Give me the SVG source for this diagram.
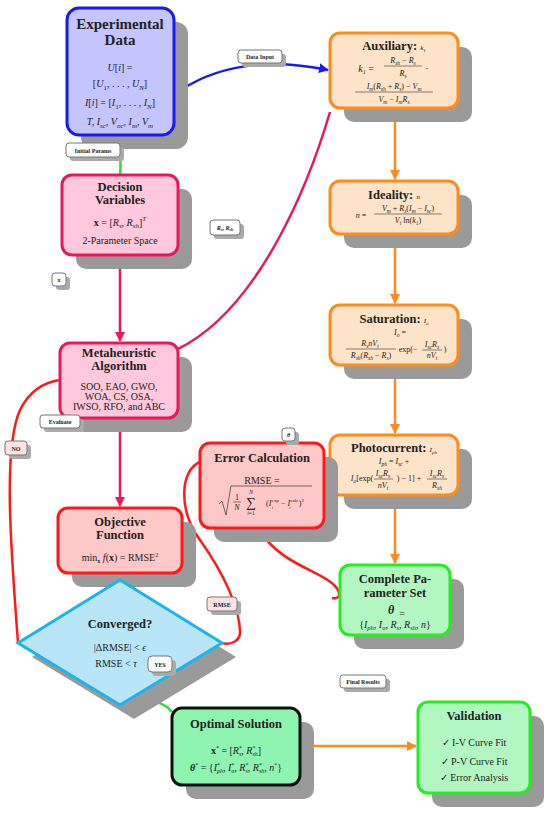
<svg xmlns="http://www.w3.org/2000/svg" width="550" height="818" viewBox="0 0 550 818" font-family="'Liberation Serif', 'DejaVu Serif', serif">
<defs>
<marker id="aO" viewBox="0 0 10 10" refX="9" refY="5" markerWidth="4" markerHeight="4" orient="auto" markerUnits="strokeWidth"><path d="M0,0 L10,5 L0,10 z" fill="#ff8c1a"/></marker>
<marker id="aC" viewBox="0 0 10 10" refX="9" refY="5" markerWidth="4" markerHeight="4" orient="auto" markerUnits="strokeWidth"><path d="M0,0 L10,5 L0,10 z" fill="#e8185a"/></marker>
<marker id="aB" viewBox="0 0 10 10" refX="9" refY="5" markerWidth="4" markerHeight="4" orient="auto" markerUnits="strokeWidth"><path d="M0,0 L10,5 L0,10 z" fill="#1a1aee"/></marker>
</defs>
<style>
text{font-family:'Liberation Serif','DejaVu Serif',serif;fill:#222;text-anchor:middle}
.ti{font-weight:bold;font-size:12.5px}
.tb{font-weight:bold;font-size:15px}
.m{font-size:10px}
.s{font-size:8px}
.i{font-style:italic}
.sh{fill:#9a9a9a}
.n{stroke-width:3}
.blue{fill:#c4c4ff;stroke:#1a1aee}
.peach{fill:#fde4c8;stroke:#ff8c1a}
.pink{fill:#ffc8dc;stroke:#e8185a}
.red{fill:#ffc8c8;stroke:#ff1a1a}
.grn{fill:#b2f7c2;stroke:#22ee22}
.mint{fill:#8ef5b0;stroke:#111}
.cyan{fill:#b8e6f8;stroke:#1ab4ee}
.c{fill:none;stroke-width:2.5}
.fl{stroke:#333;stroke-width:0.6}
.lb rect.b{fill:#fff;stroke:#777;stroke-width:1}
.lb rect.p{fill:#fde2e2;stroke:#777;stroke-width:1}
.lb rect.d{fill:#aaa}
.lb text{font-size:6px;font-weight:bold}
</style>

<g id="connectors">
<path class="c" d="M174,95 C215,64 270,58 328,70" stroke="#1a1aee" marker-end="url(#aB)"/>
<path class="c" d="M120,135 C118,150 122,160 120,175" stroke="#22e622"/>
<path class="c" d="M120,255 L120,341" stroke="#e8185a" marker-end="url(#aC)"/>
<path class="c" d="M176,350 C260,310 310,180 330,112" stroke="#e8185a"/>
<path class="c" d="M120,418 L120,506" stroke="#e8185a" marker-end="url(#aC)"/>
<path class="c" d="M395,108 L395,179" stroke="#ff8c1a" marker-end="url(#aO)"/>
<path class="c" d="M395,234 L395,303" stroke="#ff8c1a" marker-end="url(#aO)"/>
<path class="c" d="M395,365 L395,433" stroke="#ff8c1a" marker-end="url(#aO)"/>
<path class="c" d="M395,495 L395,563" stroke="#ff8c1a" marker-end="url(#aO)"/>
<path class="c" d="M300,746 L416,746" stroke="#ff8c1a" marker-end="url(#aO)"/>
<path class="c" d="M18,643 C12,560 2,450 20,410 C30,390 45,382 60,380" stroke="#ff1a1a"/>
<path class="c" d="M200,462 C180,470 178,510 200,540 C225,575 240,610 240,632 C240,642 230,645 222,643" stroke="#ff1a1a"/>
<path class="c" d="M258,528 C280,565 320,570 334,585 C342,593 340,600 332,598" stroke="#ff1a1a"/>
<path class="c" d="M120,707 C135,698 162,698 172,712" stroke="#22e622"/>
</g>

<g id="experimental">
<rect class="sh" x="81" y="22" width="107" height="127" rx="12"/>
<rect class="n blue" x="67" y="8" width="107" height="127" rx="12"/>
<text class="tb" x="120" y="29">Experimental</text>
<text class="tb" x="120" y="45">Data</text>
<text class="m" x="120" y="71" font-size="12"><tspan class="i">U</tspan>[<tspan class="i">i</tspan>]   =</text>
<text class="m" x="120" y="87" font-size="12">[<tspan class="i">U</tspan><tspan font-size="7" dy="3">1</tspan><tspan dy="-3">, . . . , </tspan><tspan class="i">U</tspan><tspan class="i" font-size="7" dy="3">N</tspan><tspan dy="-3">]</tspan></text>
<text class="m" x="120" y="106" font-size="12"><tspan class="i">I</tspan>[<tspan class="i">i</tspan>] = [<tspan class="i">I</tspan><tspan font-size="7" dy="3">1</tspan><tspan dy="-3">, . . . , </tspan><tspan class="i">I</tspan><tspan class="i" font-size="7" dy="3">N</tspan><tspan dy="-3">]</tspan></text>
<text class="m i" x="120" y="125" font-size="12">T, I<tspan font-size="7" dy="3">sc</tspan><tspan dy="-3">, V</tspan><tspan font-size="7" dy="3">oc</tspan><tspan dy="-3">, I</tspan><tspan font-size="7" dy="3">m</tspan><tspan dy="-3">, V</tspan><tspan font-size="7" dy="3">m</tspan></text>
</g>

<g id="auxiliary">
<rect class="sh" x="344" y="47" width="128" height="75" rx="10"/>
<rect class="n peach" x="330" y="33" width="128" height="75" rx="10"/>
<text class="ti" x="394" y="50">Auxiliary: <tspan class="i" font-weight="normal" font-size="7">k</tspan><tspan font-weight="normal" font-size="5" dy="2">1</tspan></text>
<text class="m i" x="366" y="72">k<tspan font-size="6" dy="2">1</tspan><tspan dy="-2" font-style="normal">  =</tspan></text>
<text class="s i" x="403" y="63">R<tspan font-size="5.5" dy="2">sh</tspan><tspan dy="-2" font-style="normal"> − </tspan>R<tspan font-size="5.5" dy="2">s</tspan></text>
<line class="fl" x1="384" y1="66" x2="422" y2="66"/>
<text class="s i" x="403" y="76">R<tspan font-size="5.5" dy="2">s</tspan></text>
<text class="m" x="427" y="72">·</text>
<text class="s i" x="394" y="89">I<tspan font-size="5.5" dy="2">m</tspan><tspan dy="-2" font-style="normal">(</tspan>R<tspan font-size="5.5" dy="2">sh</tspan><tspan dy="-2" font-style="normal"> + </tspan>R<tspan font-size="5.5" dy="2">s</tspan><tspan dy="-2" font-style="normal">) − </tspan>V<tspan font-size="5.5" dy="2">m</tspan></text>
<line class="fl" x1="355" y1="92" x2="433" y2="92"/>
<text class="s i" x="394" y="102">V<tspan font-size="5.5" dy="2">m</tspan><tspan dy="-2" font-style="normal"> − </tspan>I<tspan font-size="5.5" dy="2">m</tspan><tspan dy="-2">R</tspan><tspan font-size="5.5" dy="2">s</tspan></text>
</g>

<g id="ideality">
<rect class="sh" x="344" y="195" width="128" height="53" rx="10"/>
<rect class="n peach" x="330" y="181" width="128" height="53" rx="10"/>
<text class="ti" x="394" y="199">Ideality: <tspan class="i" font-weight="normal" font-size="7">n</tspan></text>
<text class="s i" x="361" y="218">n<tspan font-style="normal">  =</tspan></text>
<text class="s i" x="408" y="211">V<tspan font-size="5.5" dy="2">m</tspan><tspan dy="-2" font-style="normal"> + </tspan>R<tspan font-size="5.5" dy="2">s</tspan><tspan dy="-2" font-style="normal">(</tspan>I<tspan font-size="5.5" dy="2">m</tspan><tspan dy="-2" font-style="normal"> − </tspan>I<tspan font-size="5.5" dy="2">sc</tspan><tspan dy="-2" font-style="normal">)</tspan></text>
<line class="fl" x1="374" y1="214" x2="442" y2="214"/>
<text class="s i" x="408" y="223">V<tspan font-size="5.5" dy="2">t</tspan><tspan dy="-2" font-style="normal"> ln(</tspan>k<tspan font-size="5.5" dy="2" font-style="normal">1</tspan><tspan dy="-2" font-style="normal">)</tspan></text>
</g>

<g id="saturation">
<rect class="sh" x="344" y="319" width="128" height="60" rx="10"/>
<rect class="n peach" x="330" y="305" width="128" height="60" rx="10"/>
<text class="ti" x="394" y="323">Saturation: <tspan class="i" font-weight="normal" font-size="7">I</tspan><tspan class="i" font-weight="normal" font-size="5" dy="2">o</tspan></text>
<text class="s i" x="400" y="335">I<tspan font-size="5.5" dy="2">o</tspan><tspan dy="-2" font-style="normal">     =</tspan></text>
<text class="s i" x="370" y="346">R<tspan font-size="5.5" dy="2">s</tspan><tspan dy="-2">nV</tspan><tspan font-size="5.5" dy="2">t</tspan></text>
<line class="fl" x1="346" y1="349" x2="396" y2="349"/>
<text class="s i" x="371" y="358">R<tspan font-size="5.5" dy="2">sh</tspan><tspan dy="-2" font-style="normal">(</tspan>R<tspan font-size="5.5" dy="2">sh</tspan><tspan dy="-2" font-style="normal"> − </tspan>R<tspan font-size="5.5" dy="2">s</tspan><tspan dy="-2" font-style="normal">)</tspan></text>
<text class="s" x="408" y="352">exp(−</text>
<text class="s i" x="432" y="347">I<tspan font-size="5.5" dy="2">sc</tspan><tspan dy="-2">R</tspan><tspan font-size="5.5" dy="2">s</tspan></text>
<line class="fl" x1="422" y1="350" x2="442" y2="350"/>
<text class="s i" x="432" y="358">nV<tspan font-size="5.5" dy="2">t</tspan></text>
<text class="s" x="445" y="352">)</text>
</g>

<g id="photocurrent">
<rect class="sh" x="344" y="449" width="128" height="60" rx="10"/>
<rect class="n peach" x="330" y="435" width="128" height="60" rx="10"/>
<text class="ti" x="394" y="452">Photocurrent: <tspan class="i" font-weight="normal" font-size="7">I</tspan><tspan class="i" font-weight="normal" font-size="5" dy="2">ph</tspan></text>
<text class="s i" x="394" y="464">I<tspan font-size="5.5" dy="2">ph</tspan><tspan dy="-2" font-style="normal">   =   </tspan>I<tspan font-size="5.5" dy="2">sc</tspan><tspan dy="-2" font-style="normal">   +</tspan></text>
<text class="s" x="362" y="481"><tspan class="i">I</tspan><tspan class="i" font-size="5.5" dy="2">o</tspan><tspan dy="-2">[exp(</tspan></text>
<text class="s i" x="383" y="476">I<tspan font-size="5.5" dy="2">sc</tspan><tspan dy="-2">R</tspan><tspan font-size="5.5" dy="2">s</tspan></text>
<line class="fl" x1="374" y1="479" x2="393" y2="479"/>
<text class="s i" x="383" y="488">nV<tspan font-size="5.5" dy="2">t</tspan></text>
<text class="s" x="409" y="481">) − 1] +</text>
<text class="s i" x="437" y="476">I<tspan font-size="5.5" dy="2">sc</tspan><tspan dy="-2">R</tspan><tspan font-size="5.5" dy="2">s</tspan></text>
<line class="fl" x1="427" y1="479" x2="447" y2="479"/>
<text class="s i" x="437" y="488">R<tspan font-size="5.5" dy="2">sh</tspan></text>
</g>

<g id="error">
<rect class="sh" x="214" y="457" width="124" height="85" rx="10"/>
<rect class="n red" x="200" y="443" width="124" height="85" rx="10"/>
<text class="ti" x="262" y="462">Error Calculation</text>
<text class="m" x="262" y="484" font-size="9">RMSE    =</text>
<path d="M219,504 L222,501 L226,515 L231,486 L312,486" fill="none" stroke="#333" stroke-width="0.7"/>
<text class="s" x="237" y="500">1</text>
<line class="fl" x1="233" y1="502" x2="241" y2="502"/>
<text class="s i" x="237" y="510">N</text>
<text x="251" y="507" font-size="14">∑</text>
<text class="i" x="251" y="494" font-size="5.5">N</text>
<text class="i" x="251" y="515" font-size="5.5">i<tspan font-style="normal">=1</tspan></text>
<text class="s" x="285" y="506" font-size="8.5">(<tspan class="i">I</tspan><tspan font-size="5" dy="-4">exp</tspan><tspan font-size="5" dx="-7" dy="7" class="i">i</tspan><tspan dx="6" dy="-3"> − </tspan><tspan class="i">I</tspan><tspan font-size="5" dy="-4">calc</tspan><tspan font-size="5" dx="-9" dy="7" class="i">i</tspan><tspan dx="8" dy="-3">)</tspan><tspan font-size="5" dy="-4">2</tspan></text>
</g>

<g id="complete">
<rect class="sh" x="354" y="579" width="110" height="70" rx="10"/>
<rect class="n grn" x="340" y="565" width="110" height="70" rx="10"/>
<text class="ti" x="395" y="583" font-size="12">Complete Pa-</text>
<text class="ti" x="395" y="597" font-size="12">rameter Set</text>
<text x="391" y="614" font-size="12" font-weight="bold" font-style="italic">θ</text>
<text class="m" x="402" y="617">=</text>
<text class="m" x="395" y="628">{<tspan class="i">I</tspan><tspan class="i" font-size="6.5" dy="2">ph</tspan><tspan dy="-2">, </tspan><tspan class="i">I</tspan><tspan class="i" font-size="6.5" dy="2">o</tspan><tspan dy="-2">, </tspan><tspan class="i">R</tspan><tspan class="i" font-size="6.5" dy="2">s</tspan><tspan dy="-2">, </tspan><tspan class="i">R</tspan><tspan class="i" font-size="6.5" dy="2">sh</tspan><tspan dy="-2">, </tspan><tspan class="i">n</tspan>}</text>
</g>

<g id="decision">
<rect class="sh" x="76" y="189" width="116" height="80" rx="10"/>
<rect class="n pink" x="62" y="175" width="116" height="80" rx="10"/>
<text class="ti" x="120" y="191" font-size="13">Decision</text>
<text class="ti" x="120" y="204" font-size="13">Variables</text>
<text class="m" x="120" y="226" font-size="11"><tspan font-weight="bold">x</tspan>  =  [<tspan class="i">R</tspan><tspan class="i" font-size="7" dy="2">s</tspan><tspan dy="-2">, </tspan><tspan class="i">R</tspan><tspan class="i" font-size="7" dy="2">sh</tspan><tspan dy="-2">]</tspan><tspan class="i" font-size="7" dy="-5">T</tspan></text>
<text class="m" x="120" y="244" font-size="9.5">2-Parameter Space</text>
</g>

<g id="metaheuristic">
<rect class="sh" x="74" y="357" width="118" height="75" rx="10"/>
<rect class="n pink" x="60" y="343" width="118" height="75" rx="10"/>
<text class="ti" x="119" y="357" font-size="12">Metaheuristic</text>
<text class="ti" x="119" y="370" font-size="12">Algorithm</text>
<text class="m" x="119" y="390" font-size="9.5">SOO, EAO, GWO,</text>
<text class="m" x="119" y="400" font-size="9.5">WOA, CS, OSA,</text>
<text class="m" x="119" y="410" font-size="9.5">IWSO, RFO, and ABC</text>
</g>

<g id="objective">
<rect class="sh" x="72" y="522" width="124" height="65" rx="10"/>
<rect class="n red" x="58" y="508" width="124" height="65" rx="10"/>
<text class="ti" x="120" y="526">Objective</text>
<text class="ti" x="120" y="539">Function</text>
<text class="m" x="120" y="561">min<tspan font-size="6" font-weight="bold" dy="2">x</tspan><tspan dy="-2"> </tspan><tspan class="i">f</tspan>(<tspan font-weight="bold">x</tspan>) = RMSE<tspan font-size="6" dy="-4">2</tspan></text>
</g>

<g id="converged">
<polygon class="sh" points="134,594 236,657 134,719 32,657"/>
<polygon class="n cyan" points="120,580 222,643 120,705 18,643"/>
<text class="ti" x="120" y="628">Converged?</text>
<text class="m" x="120" y="651" font-size="8">|ΔRMSE|  &lt;  <tspan class="i">ϵ</tspan></text>
<text class="m" x="116" y="667" font-size="8">RMSE  &lt;  <tspan class="i">τ</tspan></text>
</g>

<g id="optimal">
<rect class="sh" x="186" y="722" width="128" height="77" rx="10"/>
<rect class="n mint" x="172" y="708" width="128" height="77" rx="10"/>
<text class="ti" x="236" y="728">Optimal Solution</text>
<text class="m" x="236" y="754"><tspan font-weight="bold">x</tspan><tspan font-size="6" dy="-4">*</tspan><tspan dy="4">   =   [</tspan><tspan class="i">R</tspan><tspan font-size="6" dy="-4">*</tspan><tspan class="i" font-size="6" dx="-3" dy="6">s</tspan><tspan dy="-2">, </tspan><tspan class="i">R</tspan><tspan font-size="6" dy="-4">*</tspan><tspan class="i" font-size="6" dx="-3" dy="6">sh</tspan><tspan dy="-2">]</tspan></text>
<text class="m" x="236" y="771"><tspan font-weight="bold" font-style="italic">θ</tspan><tspan font-size="6" dy="-4">*</tspan><tspan dy="4"> = {</tspan><tspan class="i">I</tspan><tspan font-size="6" dy="-4">*</tspan><tspan class="i" font-size="6" dx="-3" dy="6">ph</tspan><tspan dy="-2">, </tspan><tspan class="i">I</tspan><tspan font-size="6" dy="-4">*</tspan><tspan class="i" font-size="6" dx="-3" dy="6">o</tspan><tspan dy="-2">, </tspan><tspan class="i">R</tspan><tspan font-size="6" dy="-4">*</tspan><tspan class="i" font-size="6" dx="-3" dy="6">s</tspan><tspan dy="-2">, </tspan><tspan class="i">R</tspan><tspan font-size="6" dy="-4">*</tspan><tspan class="i" font-size="6" dx="-3" dy="6">sh</tspan><tspan dy="-2">, </tspan><tspan class="i">n</tspan><tspan font-size="6" dy="-4">*</tspan><tspan dy="4">}</tspan></text>
</g>

<g id="validation">
<rect class="sh" x="432" y="716" width="112" height="91" rx="10"/>
<rect class="n grn" x="418" y="702" width="112" height="91" rx="10"/>
<text class="ti" x="474" y="720">Validation</text>
<text class="m" x="474" y="746">✓ I-V Curve Fit</text>
<text class="m" x="474" y="765">✓ P-V Curve Fit</text>
<text class="m" x="474" y="781">✓ Error Analysis</text>
</g>

<g id="labels">
<g class="lb"><rect class="d" x="242" y="54" width="44" height="13" rx="3"/><rect class="b" x="238" y="50" width="44" height="13" rx="3"/><text x="260" y="59">Data Input</text></g>
<g class="lb"><rect class="d" x="70" y="147" width="54" height="14" rx="3"/><rect class="b" x="66" y="143" width="54" height="14" rx="3"/><text x="93" y="152.5">Initial Params</text></g>
<g class="lb"><rect class="d" x="214" y="224" width="30" height="15" rx="3"/><rect class="b" x="210" y="220" width="30" height="15" rx="3"/><text x="225" y="229.5" font-weight="normal" font-style="italic">R<tspan font-size="4" dy="1.5">s</tspan><tspan dy="-1.5" font-style="normal">, </tspan>R<tspan font-size="4" dy="1.5">sh</tspan></text></g>
<g class="lb"><rect class="d" x="56" y="277" width="14" height="13" rx="3"/><rect class="b" x="52" y="273" width="14" height="13" rx="3"/><text x="59" y="282">x</text></g>
<g class="lb"><rect class="d" x="44" y="419" width="40" height="13" rx="3"/><rect class="b" x="40" y="415" width="40" height="13" rx="3"/><text x="60" y="424">Evaluate</text></g>
<g class="lb"><rect class="d" x="9" y="445" width="22" height="14" rx="3"/><rect class="p" x="5" y="441" width="22" height="14" rx="3"/><text x="16" y="450.5">NO</text></g>
<g class="lb"><rect class="d" x="286" y="432" width="13" height="13" rx="3"/><rect class="b" x="282" y="428" width="13" height="13" rx="3"/><text x="288.5" y="437" font-style="italic">θ</text></g>
<g class="lb"><rect class="d" x="211" y="601" width="30" height="14" rx="3"/><rect class="p" x="207" y="597" width="30" height="14" rx="3"/><text x="222" y="606.5">RMSE</text></g>
<g class="lb"><rect class="d" x="152" y="660" width="24" height="16" rx="4"/><rect class="b" x="148" y="656" width="24" height="16" rx="4"/><text x="160" y="666.5">YES</text></g>
<g class="lb"><rect class="d" x="344" y="679" width="46" height="13" rx="3"/><rect class="b" x="340" y="675" width="46" height="13" rx="3"/><text x="363" y="684">Final Results</text></g>
</g>
</svg>
